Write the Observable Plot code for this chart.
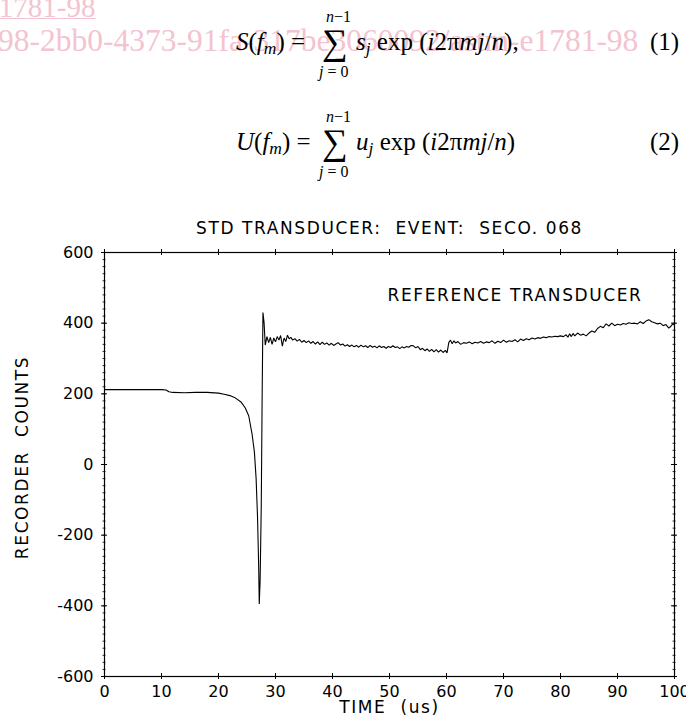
<!DOCTYPE html>
<html>
<head>
<meta charset="utf-8">
<script src="https://cdn.jsdelivr.net/npm/d3@7"></script>
<script src="https://cdn.jsdelivr.net/npm/@observablehq/plot@0.6"></script>
<style>
  html, body { margin: 0; padding: 0; background: #fff; }
  #page { position: relative; width: 686px; height: 723px; overflow: hidden; }
  #top { position: absolute; left: 0; top: 0; width: 686px; height: 200px; }
  .wm { position: absolute; font-family: "Liberation Serif", serif; color: #f3c3cf; white-space: nowrap; line-height: 1; }
  .eq { position: absolute; font-family: "Liberation Serif", serif; color: #000; white-space: nowrap; line-height: 1; }
  .eq sub { font-size: 0.7em; vertical-align: -0.25em; line-height: 0; }
  #chart { position: absolute; left: 0; top: 200px; }
</style>
</head>
<body>
<div id="page">
  <div id="top">
    <div class="wm" style="left:-14px; top:-7px; font-size:29px; text-decoration: underline; text-decoration-thickness:1px;">e1781-98</div>
    <div class="wm" style="left:-2px; top:25px; font-size:31.5px;">98-2bb0-4373-91fa-317be3060092/astm-e1781-98</div>

    <div class="eq" style="left:236px; top:29px; font-size:25px;"><i>S</i>(<i>f<sub>m</sub></i>) =</div>
    <div class="eq" style="left:322px; top:24px; font-size:36px;">&#x2211;</div>
    <div class="eq" style="left:326px; top:9px; font-size:16px;"><i>n</i>&#x2212;1</div>
    <div class="eq" style="left:319px; top:64px; font-size:16px;"><i>j</i> = 0</div>
    <div class="eq" style="left:356px; top:29px; font-size:25px;"><i>s<sub>j</sub></i> exp (<i>i</i>2&#x3C0;<i>mj</i>/<i>n</i>),</div>
    <div class="eq" style="left:650px; top:29px; font-size:25px;">(1)</div>

    <div class="eq" style="left:236px; top:129px; font-size:25px;"><i>U</i>(<i>f<sub>m</sub></i>) =</div>
    <div class="eq" style="left:322px; top:124px; font-size:36px;">&#x2211;</div>
    <div class="eq" style="left:326px; top:109px; font-size:16px;"><i>n</i>&#x2212;1</div>
    <div class="eq" style="left:319px; top:164px; font-size:16px;"><i>j</i> = 0</div>
    <div class="eq" style="left:356px; top:129px; font-size:25px;"><i>u<sub>j</sub></i> exp (<i>i</i>2&#x3C0;<i>mj</i>/<i>n</i>)</div>
    <div class="eq" style="left:650px; top:129px; font-size:25px;">(2)</div>
  </div>
  <div id="chart"></div>
</div>
<script>
// ---- data ----
const timeUs = [
  0, 5, 10, 10.8, 11.3, 12, 14, 16, 18, 20, 21, 22, 23, 24, 24.7, 25.3, 25.9, 26.3, 26.6, 26.85, 27.05, 27.15, 27.3, 27.5, 27.65, 27.8, 28.0,
  28.2, 28.5, 28.8, 29.1, 29.4, 29.7, 30.0, 30.3, 30.6, 30.9, 31.2, 31.5, 31.8, 32.1, 32.4, 32.7, 33.0, 33.4, 33.8, 34.2, 34.6, 35.0,
  35.4, 35.8, 36.2, 36.6, 37.0, 37.4, 37.8, 38.2, 38.6, 39.0, 39.4, 39.8, 40.2, 40.6, 41.0, 41.4, 41.8, 42.2, 42.6, 43.0, 43.4, 43.8,
  44.2, 44.6, 45.0, 45.4, 45.8, 46.2, 46.6, 47.0, 47.4, 47.8, 48.2, 48.6, 49.0, 49.4, 49.8, 50.2, 50.6, 51.0, 51.4, 51.8, 52.2, 52.6,
  53.0, 53.4, 53.8, 54.2, 54.6, 55.0, 55.4, 55.8, 56.2, 56.6, 57.0, 57.4, 57.8, 58.2, 58.6, 59.0, 59.4, 59.8, 60.1, 60.4, 60.7, 61.0,
  61.3, 61.6, 62.0, 62.5, 63.0, 63.5, 64.0, 64.5, 65.0, 65.5, 66.0, 66.5, 67.0, 67.5, 68.0, 68.5, 69.0, 69.5, 70.0, 70.5, 71.0, 71.5,
  72.0, 72.5, 73.0, 73.5, 74.0, 74.5, 75.0, 75.5, 76.0, 76.5, 77.0, 77.5, 78.0, 78.5, 79.0, 79.5, 80.0, 80.5, 81.0, 81.3, 81.6, 81.9,
  82.2, 82.5, 83.0, 83.5, 84.0, 84.5, 85.0, 85.5, 86.0, 86.5, 87.0, 87.5, 88.0, 88.5, 89.0, 89.5, 90.0, 90.5, 91.0, 91.5, 92.0, 92.5,
  93.0, 93.5, 94.0, 94.5, 95.0, 95.5, 96.0, 96.5, 97.0, 97.5, 98.0, 98.5, 99.0, 99.4, 99.7, 100
];
const counts = [
  212, 212, 212, 211, 206, 204, 203, 204, 204, 202, 199, 195, 188, 176, 160, 138, 85, 35, -40, -150, -290, -395, -330, -120, 180, 430, 400,
  338, 362, 345, 360, 340, 358, 347, 362, 352, 365, 335, 358, 348, 366, 356, 360, 352, 356, 349, 354, 346, 351,
  345, 350, 343, 348, 341, 347, 339, 346, 340, 344, 338, 343, 337, 341, 345, 338, 341, 335, 339, 334, 338, 333,
  337, 332, 338, 333, 336, 331, 337, 332, 335, 330, 336, 331, 334, 329, 334, 331, 336, 331, 333, 328, 333, 330,
  334, 332, 337, 336, 330, 334, 325, 329, 322, 327, 320, 326, 319, 325, 318, 324, 317, 323, 316, 345, 352, 342,
  350, 344, 348, 340, 345, 343, 347, 342, 346, 344, 348, 343, 347, 345, 350, 343, 349, 345, 352, 346, 350, 348,
  353, 347, 355, 351, 356, 353, 358, 355, 359, 357, 361, 359, 362, 361, 363, 362, 364, 362, 367, 360, 370, 362,
  371, 364, 372, 366, 369, 364, 372, 378, 374, 385, 391, 387, 398, 392, 400, 393, 397, 395, 399, 397, 401, 399,
  400, 398, 404, 399, 406, 410, 404, 401, 398, 400, 393, 396, 386, 392, 398, 395
];
const xTicks = [0, 10, 20, 30, 40, 50, 60, 70, 80, 90, 100];
const yTicks = [-600, -400, -200, 0, 200, 400, 600];
const yMinorTicks = d3.range(-600, 601, 20);
const titleText = "STD TRANSDUCER:\u00a0 EVENT:\u00a0 SECO.\u00a0068";
const seriesLabel = "REFERENCE TRANSDUCER";
const xLabel = "TIME\u00a0 (us)";
const yLabel = "RECORDER\u00a0 COUNTS";

const series = timeUs.map((t, i) => ({t, v: counts[i]}));

const W = 686, H = 523;
const mL = 104, mR = 12, mT = 52, mB = 47;
const iw = W - mL - mR, ih = H - mT - mB;
const FONT = "'DejaVu Sans', 'Liberation Sans', sans-serif";
const hyphenFormat = d => String(d);

const chart = Plot.plot({
  width: W, height: H,
  marginLeft: mL, marginRight: mR, marginTop: mT, marginBottom: mB,
  style: {fontFamily: FONT, fontSize: "16px", color: "#000", background: "#fff", overflow: "visible"},
  x: {domain: [0, 100]},
  y: {domain: [-600, 600]},
  marks: [
    Plot.frame({stroke: "#000", strokeWidth: 1.2}),
    // tick marks crossing the frame
    Plot.ruleX(xTicks, {x: d => d, insetTop: ih - 3, insetBottom: -3, stroke: "#000"}),
    Plot.ruleX(xTicks, {x: d => d, insetTop: -3, insetBottom: ih - 3, stroke: "#000"}),
    Plot.ruleY(yTicks, {y: d => d, insetLeft: -3, insetRight: iw - 3, stroke: "#000"}),
    Plot.ruleY(yTicks, {y: d => d, insetLeft: iw - 3, insetRight: -3, stroke: "#000"}),
    Plot.ruleY(yMinorTicks, {y: d => d, insetLeft: -1.5, insetRight: iw - 1.5, stroke: "#000", strokeWidth: 0.8}),
    Plot.ruleY(yMinorTicks, {y: d => d, insetLeft: iw - 1.5, insetRight: -1.5, stroke: "#000", strokeWidth: 0.8}),
    Plot.axisX(xTicks, {tickSize: 0, tickPadding: 9, label: null, fontSize: 16, tickFormat: hyphenFormat}),
    Plot.axisY(yTicks, {tickSize: 0, tickPadding: 11, label: null, fontSize: 16, tickFormat: hyphenFormat}),
    Plot.line(series, {x: "t", y: "v", stroke: "#000", strokeWidth: 1.1, strokeLinejoin: "miter"}),
    Plot.text([titleText], {frameAnchor: "top", dy: -24, lineAnchor: "middle", textAnchor: "middle", fontSize: 17, text: d => d}),
    Plot.text([seriesLabel], {frameAnchor: "top-right", dx: -32, dy: 43, lineAnchor: "middle", textAnchor: "end", fontSize: 17, text: d => d}),
    Plot.text([xLabel], {frameAnchor: "bottom", dy: 31, lineAnchor: "middle", textAnchor: "middle", fontSize: 17, text: d => d}),
    Plot.text([yLabel], {frameAnchor: "left", dx: -82, dy: -7, rotate: -90, lineAnchor: "middle", textAnchor: "middle", fontSize: 17, text: d => d})
  ]
});
// the original lettering is wide: add letter spacing to the label texts
d3.select(chart).selectAll("g[aria-label='text'] text").attr("letter-spacing", 1.6);
document.getElementById("chart").appendChild(chart);
</script>
</body>
</html>
